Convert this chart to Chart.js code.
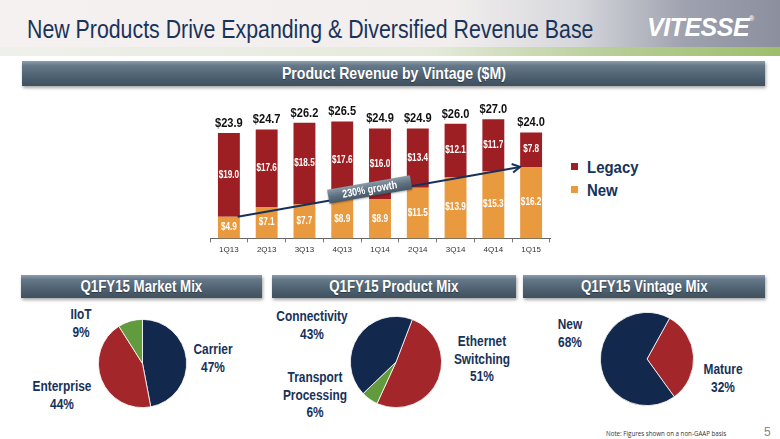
<!DOCTYPE html>
<html>
<head>
<meta charset="utf-8">
<script src="https://cdn.jsdelivr.net/npm/chart.js@4/dist/chart.umd.min.js"></script>
<style>
  html, body { margin: 0; padding: 0; background: #fff; }
  #slide { position: relative; width: 780px; height: 439px; overflow: hidden; background: #fff;
           font-family: "Liberation Sans", Arial, sans-serif; }
  #header { position: absolute; left: 0; top: 0; width: 780px; height: 56px;
            background: linear-gradient(90deg, #f5f1f0 0%, #f1eeed 58%, #d6d7dc 74%, #9ea1ae 88%, #8c8f9e 100%); }
  #greenbar { position: absolute; left: 0; top: 47px; width: 780px; height: 9px;
              background: linear-gradient(90deg, rgba(238,240,234,0.9) 0%, rgba(228,234,218,0.9) 55%, #b5cc92 80%, #9ebe6c 100%); }
  #title { position: absolute; left: 27px; top: 14px; font-size: 26px; color: #193359; white-space: nowrap;
           transform: scaleX(0.82); transform-origin: 0 0; }
  #logo { position: absolute; left: 647px; top: 13px; font-weight: bold; font-style: italic; font-size: 25px;
          color: #fff; letter-spacing: -0.5px; }
  #logo sup { font-size: 7px; font-style: normal; vertical-align: 15px; }
  .banner { position: absolute; color: #fff; font-weight: bold; text-align: center; white-space: nowrap;
            background: linear-gradient(180deg, #8e9eab 0%, #66798a 18%, #4f6272 60%, #3f505e 100%);
            box-shadow: 1px 2px 3px rgba(0,0,0,0.35); text-shadow: 0 1px 1px rgba(0,0,0,0.4); }
  .banner span { display: inline-block; transform: scaleX(0.83); }
  .wrap { position: absolute; }
  #legend { position: absolute; left: 571px; top: 156px; font-weight: bold; font-size: 17px; color: #17325a; }
  #legend div { height: 23px; line-height: 23px; white-space: nowrap; }
  #legend span.sw { display: inline-block; width: 7px; height: 7px; margin-right: 9px; vertical-align: 3px; }
  #legend span.tx { display: inline-block; transform: scaleX(0.88); transform-origin: 0 50%; }
  .plabel { position: absolute; font-weight: bold; font-size: 14px; line-height: 17.5px; color: #17325a;
            text-align: center; white-space: pre; transform: translateX(-50%) scaleX(0.85); }
  #note { position: absolute; left: 606px; top: 429px; font-family: "Open Sans", "Liberation Sans", sans-serif;
          font-size: 6.2px; color: #333; white-space: nowrap; }
  #pagenum { position: absolute; left: 764px; top: 425px; font-size: 12px; color: #888; }
</style>
</head>
<body>
<div id="slide">
  <div id="header">
    <div id="greenbar"></div>
    <div id="title">New Products Drive Expanding &amp; Diversified Revenue Base</div>
    <div id="logo">VITESSE<sup>®</sup></div>
  </div>

  <div class="banner" style="left:22px;top:61px;width:743px;height:25px;line-height:25px;font-size:17px;"><span>Product Revenue by Vintage ($M)</span></div>
  <div class="wrap" style="left:205px;top:95px;width:350px;height:170px;"><canvas id="barChart"></canvas></div>
  <div id="legend"></div>

  <div class="banner" style="left:21px;top:275px;width:241px;height:23px;line-height:23px;font-size:16px;"><span>Q1FY15 Market Mix</span></div>
  <div class="banner" style="left:272px;top:275px;width:244px;height:23px;line-height:23px;font-size:16px;"><span>Q1FY15 Product Mix</span></div>
  <div class="banner" style="left:523px;top:275px;width:242px;height:23px;line-height:23px;font-size:16px;"><span>Q1FY15 Vintage Mix</span></div>

  <div class="wrap" style="left:98px;top:319px;width:89px;height:89px;"><canvas id="marketPie"></canvas></div>
  <div class="wrap" style="left:350px;top:316px;width:92px;height:92px;"><canvas id="productPie"></canvas></div>
  <div class="wrap" style="left:600px;top:312px;width:94px;height:94px;"><canvas id="vintagePie"></canvas></div>

  <div id="note">Note: Figures shown on a non-GAAP basis</div>
  <div id="pagenum">5</div>
</div>

<script>
// ---- data ----
const quarters = ['1Q13', '2Q13', '3Q13', '4Q13', '1Q14', '2Q14', '3Q14', '4Q14', '1Q15'];
const newRevenue = [4.9, 7.1, 7.7, 8.9, 8.9, 11.5, 13.9, 15.3, 16.2];
const legacyRevenue = [19.0, 17.6, 18.5, 17.6, 16.0, 13.4, 12.1, 11.7, 7.8];
const totalRevenue = [23.9, 24.7, 26.2, 26.5, 24.9, 24.9, 26.0, 27.0, 24.0];
const growthLabel = '230% growth';

const marketLabels = ['Carrier', 'Enterprise', 'IIoT'];
const marketShare = [47, 44, 9];
const productLabels = ['Ethernet\nSwitching', 'Transport\nProcessing', 'Connectivity'];
const productShare = [51, 6, 43];
const vintageLabels = ['Mature', 'New'];
const vintageShare = [32, 68];

// ---- styles ----
const NAVY = '#12294d';
const RED = '#a2262a';
const GREEN = '#629a3e';
const LEGACY = '#9e1f23';
const NEW = '#e99a3f';
const FONT = '"Liberation Sans", Arial, sans-serif';
const NARROW = 0.82; // the slide uses a condensed face; squeeze text to match

Chart.defaults.font.family = FONT;
Chart.defaults.animation = false;

// legend
document.getElementById('legend').innerHTML =
    '<div><span class="sw" style="background:' + LEGACY + '"></span><span class="tx">Legacy</span></div>' +
    '<div><span class="sw" style="background:' + NEW + '"></span><span class="tx">New</span></div>';

function narrowText(ctx, text, x, y) {
    ctx.save();
    ctx.translate(x, y);
    ctx.scale(NARROW, 1);
    ctx.fillText(text, 0, 0);
    ctx.restore();
}

/** bar segment labels, totals, and the growth arrow */
const barDecor = {
    id: 'barDecor',
    afterDatasetsDraw(chart) {
        const ctx = chart.ctx;
        ctx.save();
        ctx.textAlign = 'center';
        ctx.textBaseline = 'middle';
        ctx.fillStyle = '#fff';
        ctx.font = 'bold 10px ' + FONT;
        chart.data.datasets.forEach((ds, di) => {
            chart.getDatasetMeta(di).data.forEach((el, i) => {
                narrowText(ctx, '$' + ds.data[i].toFixed(1), el.x, (el.y + el.base) / 2);
            });
        });

        // totals above bars
        const topMeta = chart.getDatasetMeta(1);
        ctx.fillStyle = '#111';
        ctx.font = 'bold 13.5px ' + FONT;
        ctx.textBaseline = 'bottom';
        topMeta.data.forEach((el, i) => {
            narrowText(ctx, '$' + totalRevenue[i].toFixed(1), el.x, el.y - 3);
        });

        // growth arrow from first to last "New" value
        const xs = chart.scales.x, ys = chart.scales.y;
        const half = topMeta.data[0].width / 2;
        const last = newRevenue.length - 1;
        const x1 = xs.getPixelForValue(0) + half * 0.8;
        const y1 = ys.getPixelForValue(newRevenue[0]);
        const x2 = xs.getPixelForValue(last) - half;
        const y2 = ys.getPixelForValue(newRevenue[last]);
        const ang = Math.atan2(y2 - y1, x2 - x1);

        ctx.strokeStyle = '#17325a';
        ctx.lineWidth = 2;
        ctx.beginPath();
        ctx.moveTo(x1, y1);
        ctx.lineTo(x2, y2);
        ctx.stroke();
        ctx.beginPath();
        ctx.moveTo(x2 - 9 * Math.cos(ang - 0.5), y2 - 9 * Math.sin(ang - 0.5));
        ctx.lineTo(x2, y2);
        ctx.lineTo(x2 - 9 * Math.cos(ang + 0.5), y2 - 9 * Math.sin(ang + 0.5));
        ctx.stroke();

        // label box on the line
        const t = 0.47;
        const cx = x1 + (x2 - x1) * t + 4 * Math.sin(ang);
        const cy = y1 + (y2 - y1) * t - 4 * Math.cos(ang);
        ctx.translate(cx, cy);
        ctx.rotate(ang);
        const bw = 84, bh = 14;
        const g = ctx.createLinearGradient(0, -bh / 2, 0, bh / 2);
        g.addColorStop(0, '#8c9ca8');
        g.addColorStop(0.5, '#5f7282');
        g.addColorStop(1, '#465868');
        ctx.shadowColor = 'rgba(0,0,0,0.35)';
        ctx.shadowOffsetY = 1;
        ctx.shadowBlur = 2;
        ctx.fillStyle = g;
        ctx.fillRect(-bw / 2, -bh / 2, bw, bh);
        ctx.shadowColor = 'transparent';
        ctx.fillStyle = '#fff';
        ctx.font = 'bold 11px ' + FONT;
        ctx.textBaseline = 'middle';
        narrowText(ctx, growthLabel, 0, 0.5);
        ctx.restore();
    }
};

new Chart(document.getElementById('barChart'), {
    type: 'bar',
    data: {
        labels: quarters,
        datasets: [
            { label: 'New', data: newRevenue, backgroundColor: NEW, barPercentage: 0.58, categoryPercentage: 1 },
            { label: 'Legacy', data: legacyRevenue, backgroundColor: LEGACY, barPercentage: 0.58, categoryPercentage: 1 }
        ]
    },
    options: {
        responsive: true,
        maintainAspectRatio: false,
        layout: { padding: { top: 11, left: 5, right: 5, bottom: 7 } },
        plugins: { legend: { display: false }, tooltip: { enabled: false } },
        scales: {
            x: {
                stacked: true,
                grid: { drawOnChartArea: false, offset: true, tickLength: 4, color: '#777' },
                border: { color: '#666', width: 1 },
                ticks: { color: '#333', font: { size: 8 }, padding: 3, maxRotation: 0 }
            },
            y: { stacked: true, display: false, min: 0, max: 30 }
        }
    },
    plugins: [barDecor]
});

function makePie(id, labels, values, colors, rotation) {
    new Chart(document.getElementById(id), {
        type: 'pie',
        data: { labels, datasets: [{ data: values, backgroundColor: colors, borderColor: '#fff', borderWidth: 0.8 }] },
        options: {
            responsive: true,
            maintainAspectRatio: false,
            rotation,
            layout: { padding: 0 },
            plugins: { legend: { display: false }, tooltip: { enabled: false } }
        }
    });
}
makePie('marketPie', marketLabels, marketShare, [NAVY, RED, GREEN], 0);
makePie('productPie', productLabels, productShare, [RED, GREEN, NAVY], 21);
makePie('vintagePie', vintageLabels, vintageShare, [RED, NAVY], 29);

// pie labels, placed beside each pie
function addLabels(labels, values, spots) {
    const slide = document.getElementById('slide');
    labels.forEach((lab, i) => {
        const d = document.createElement('div');
        d.className = 'plabel';
        d.style.left = spots[i][0] + 'px';
        d.style.top = spots[i][1] + 'px';
        d.textContent = lab + '\n' + values[i] + '%';
        slide.appendChild(d);
    });
}
addLabels(marketLabels, marketShare, [[213, 341], [62, 378], [81, 306]]);
addLabels(productLabels, productShare, [[482, 333], [315, 369], [312, 308]]);
addLabels(vintageLabels, vintageShare, [[723, 361], [570, 316]]);
</script>
</body>
</html>
